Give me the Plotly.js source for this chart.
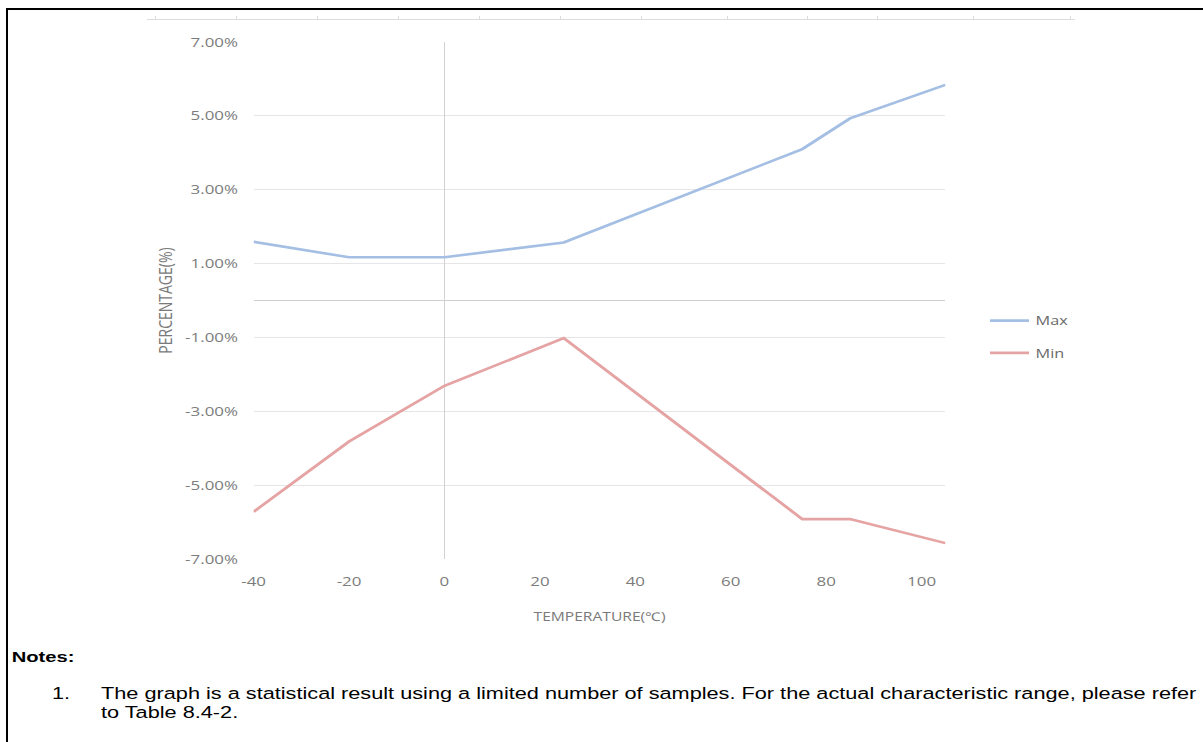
<!DOCTYPE html>
<html>
<head>
<meta charset="utf-8">
<script src="https://cdn.plot.ly/plotly-3.0.1.min.js"></script>
<style>
html,body{margin:0;padding:0;width:1203px;height:742px;overflow:hidden;background:#fff;}
#frame{position:absolute;left:6px;top:8px;width:1400px;height:900px;border-left:2px solid #000;border-top:2px solid #000;}
#topaxis{position:absolute;left:147px;top:19px;width:928px;height:1px;background:#dcdcdc;}
.tk{position:absolute;top:16px;width:1px;height:4px;background:#dcdcdc;}
#stage{position:absolute;left:0;top:0;width:925px;height:742px;transform:scaleX(1.3005);transform-origin:0 0;}
#chart{position:absolute;left:0;top:0;width:925px;height:742px;}
.note{position:absolute;font-family:Arial,"Liberation Sans",sans-serif;font-size:16.7px;color:#000;white-space:nowrap;line-height:17px;}
</style>
</head>
<body>
<div id="frame"></div>
<div id="topaxis"></div>
<div id="stage">
  <div id="chart"></div>
  <div class="note" style="left:9px;top:648px;font-weight:bold;font-size:15.5px;">Notes:</div>
  <div class="note" style="left:40px;top:685px;">1.</div>
  <div class="note" style="left:77.7px;top:685px;">The graph is a statistical result using a limited number of samples. For the actual characteristic range, please refer</div>
  <div class="note" style="left:77.7px;top:704px;">to Table 8.4-2.</div>
</div>
<script>
// ---- data ----
var temperatures = [-40, -20, 0, 25, 75, 85, 105];
var maxPercent   = [1.59, 1.17, 1.17, 1.57, 4.10, 4.93, 5.84];
var minPercent   = [-5.72, -3.82, -2.31, -1.02, -5.92, -5.92, -6.57];
var seriesNames  = ['Max', 'Min'];
var xTickValues  = [-40, -20, 0, 20, 40, 60, 80, 100];
var xTickLabels  = ['-40', '-20', '0', '20', '40', '60', '80', '100'];
var yTickValues  = [-7, -5, -3, -1, 1, 3, 5, 7];
var yTickLabels  = ['-7.00%', '-5.00%', '-3.00%', '-1.00%', '1.00%', '3.00%', '5.00%', '7.00%'];

// faint clipped axis of the chart above
(function(){
  var xs = [155, 236, 317, 398, 479, 560, 641, 727, 807, 877, 973, 1070];
  xs.forEach(function(x){
    var d = document.createElement('div');
    d.className = 'tk'; d.style.left = x + 'px';
    document.body.appendChild(d);
  });
})();

var traces = [
  {x: temperatures, y: maxPercent, name: seriesNames[0], type: 'scatter', mode: 'lines',
   line: {color: '#a4bfe3', width: 2.6}, legendgroup: 'a'},
  {x: temperatures, y: minPercent, name: seriesNames[1], type: 'scatter', mode: 'lines',
   line: {color: '#e5a3a3', width: 2.6}, legendgroup: 'b'}
];

var layout = {
  width: 925, height: 742,
  margin: {l: 194.5, r: 198.4, t: 42, b: 183, pad: 0},
  paper_bgcolor: 'rgba(0,0,0,0)', plot_bgcolor: 'rgba(0,0,0,0)',
  font: {family: '"Open Sans", sans-serif', size: 13, color: '#7c7c7c'},
  showlegend: true,
  legend: {x: 1.055, xanchor: 'left', y: 0.4894, yanchor: 'top', traceorder: 'grouped',
           tracegroupgap: 13, font: {size: 12.5, color: '#6a6a6a'}, bgcolor: 'rgba(0,0,0,0)'},
  xaxis: {range: [-40, 105], tickvals: xTickValues, ticktext: xTickLabels,
          showgrid: false, zeroline: true, zerolinecolor: '#d2d2d2', zerolinewidth: 1,
          showline: false, ticks: '', ticklabelstandoff: 13, automargin: false, fixedrange: true,
          title: {text: 'TEMPERATURE(℃)', font: {size: 12, color: '#7a7a7a'}, standoff: 23}},
  yaxis: {range: [-7, 7], tickvals: yTickValues, ticktext: yTickLabels,
          showgrid: true, gridcolor: '#e6e6e6', gridwidth: 1,
          zeroline: true, zerolinecolor: '#cfcfcf', zerolinewidth: 1,
          showline: false, ticks: '', ticklabelstandoff: 11, automargin: false, fixedrange: true,
          title: {text: 'PERCENTAGE(%)', font: {size: 14, color: '#7a7a7a'}, standoff: 6}}
};

Plotly.newPlot('chart', traces, layout, {displayModeBar: false, staticPlot: true});
</script>
</body>
</html>
